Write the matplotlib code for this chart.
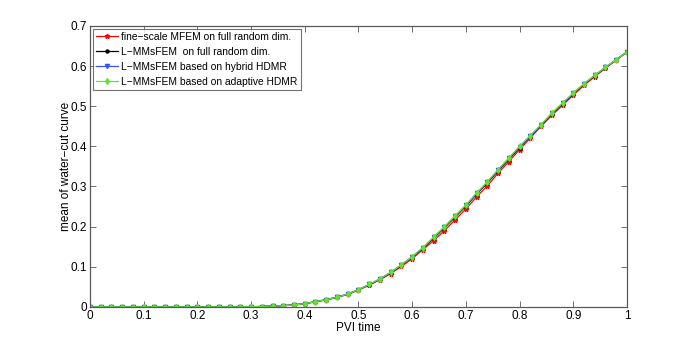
import matplotlib
matplotlib.use("Agg")
import matplotlib.pyplot as plt

pvi = [0.00, 0.02, 0.04, 0.06, 0.08, 0.10, 0.12, 0.14, 0.16, 0.18,
       0.20, 0.22, 0.24, 0.26, 0.28, 0.30, 0.32, 0.34, 0.36, 0.38,
       0.40, 0.42, 0.44, 0.46, 0.48, 0.50, 0.52, 0.54, 0.56, 0.58,
       0.60, 0.62, 0.64, 0.66, 0.68, 0.70, 0.72, 0.74, 0.76, 0.78,
       0.80, 0.82, 0.84, 0.86, 0.88, 0.90, 0.92, 0.94, 0.96, 0.98, 1.00]

fine_mfem = [0, 0, 0, 0, 0, 0, 0, 0, 0, 0,
             0, 0, 0, 0, 0, 0.0005, 0.001, 0.002, 0.003, 0.005,
             0.008, 0.013, 0.018, 0.024, 0.031, 0.042, 0.054, 0.068, 0.083, 0.101,
             0.120, 0.143, 0.165, 0.190, 0.217, 0.244, 0.274, 0.302, 0.333, 0.362,
             0.392, 0.421, 0.450, 0.477, 0.502, 0.528, 0.552, 0.574, 0.595, 0.615, 0.635]

lmms_full = [0, 0, 0, 0, 0, 0, 0, 0, 0, 0,
             0, 0, 0, 0, 0, 0.0005, 0.001, 0.002, 0.003, 0.005,
             0.008, 0.013, 0.018, 0.024, 0.032, 0.043, 0.055, 0.069, 0.085, 0.104,
             0.124, 0.146, 0.171, 0.197, 0.224, 0.251, 0.281, 0.309, 0.339, 0.368,
             0.397, 0.425, 0.452, 0.481, 0.506, 0.531, 0.555, 0.576, 0.596, 0.616, 0.635]

lmms_hybrid = [0, 0, 0, 0, 0, 0, 0, 0, 0, 0,
               0, 0, 0, 0, 0, 0.0005, 0.001, 0.002, 0.003, 0.005,
               0.008, 0.013, 0.018, 0.024, 0.032, 0.043, 0.056, 0.070, 0.086, 0.105,
               0.125, 0.147, 0.173, 0.199, 0.226, 0.253, 0.283, 0.311, 0.341, 0.370,
               0.399, 0.426, 0.453, 0.482, 0.507, 0.532, 0.556, 0.577, 0.597, 0.616, 0.635]

lmms_adaptive = [0, 0, 0, 0, 0, 0, 0, 0, 0, 0,
                 0, 0, 0, 0, 0, 0.0005, 0.001, 0.002, 0.003, 0.005,
                 0.008, 0.013, 0.018, 0.024, 0.032, 0.043, 0.056, 0.070, 0.086, 0.105,
                 0.125, 0.148, 0.174, 0.200, 0.227, 0.254, 0.284, 0.312, 0.342, 0.371,
                 0.400, 0.427, 0.454, 0.483, 0.508, 0.533, 0.556, 0.577, 0.597, 0.616, 0.635]

labels = ["fine\u2212scale MFEM on full random dim.",
          "L\u2212MMsFEM  on full random dim.",
          "L\u2212MMsFEM based on hybrid HDMR",
          "L\u2212MMsFEM based on adaptive HDMR"]

xticks = [0, 0.1, 0.2, 0.3, 0.4, 0.5, 0.6, 0.7, 0.8, 0.9, 1]
xticklabels = ["0", "0.1", "0.2", "0.3", "0.4", "0.5", "0.6", "0.7", "0.8", "0.9", "1"]
yticks = [0, 0.1, 0.2, 0.3, 0.4, 0.5, 0.6, 0.7]
yticklabels = ["0", "0.1", "0.2", "0.3", "0.4", "0.5", "0.6", "0.7"]

plt.rcParams['font.family'] = ['Liberation Sans', 'DejaVu Sans']
plt.rcParams['axes.unicode_minus'] = True

fig = plt.figure(figsize=(6.92, 3.46), dpi=100)
ax = fig.add_axes([0.130, 0.113, 0.776, 0.812])

ax.plot(pvi, fine_mfem, '-', color='#ff0000', marker='*', ms=3.5, lw=0.9, label=labels[0])
ax.plot(pvi, lmms_full, '-', color='#000000', marker='o', ms=2.2, lw=0.9, label=labels[1])
ax.plot(pvi, lmms_hybrid, '-', color='#3355ff', marker='v', ms=3, lw=0.9, label=labels[2])
ax.plot(pvi, lmms_adaptive, '-', color='#66e030', marker='d', ms=3, lw=0.9, label=labels[3])

ax.set_xlim(0, 1)
ax.set_ylim(0, 0.7)
ax.set_xticks(xticks)
ax.set_xticklabels(xticklabels)
ax.set_yticks(yticks)
ax.set_yticklabels(yticklabels)
ax.tick_params(direction='in', top=True, right=True, labelsize=8.5, length=4,
               width=0.6, color='0.35', pad=2)
for s in ax.spines.values():
    s.set_color('0.35')
    s.set_linewidth(0.9)

ax.set_xlabel("PVI time", fontsize=8.5, labelpad=0.5)
ax.set_ylabel("mean of water\u2212cut curve", fontsize=8.5, labelpad=-1)

leg = ax.legend(loc='upper left', fontsize=7.4, frameon=True, fancybox=False,
                borderaxespad=0.25, handlelength=2.2, handletextpad=0.3,
                labelspacing=0.5, borderpad=0.3)
leg.get_frame().set_edgecolor('0.3')
leg.get_frame().set_linewidth(0.8)

fig.savefig("out.png", dpi=100)
